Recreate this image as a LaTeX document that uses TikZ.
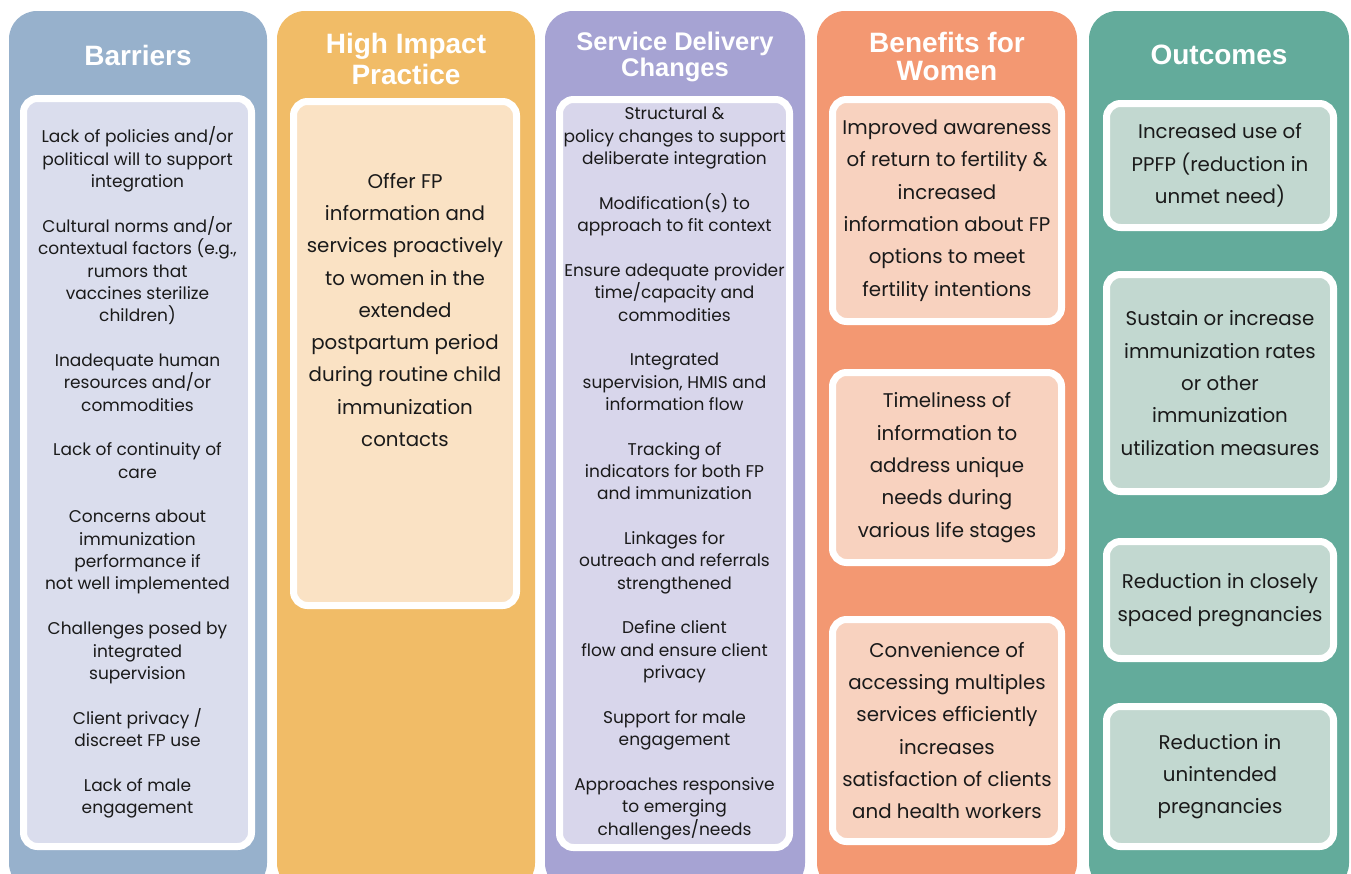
\documentclass[tikz,border=0pt]{standalone}
\usepackage{fontspec}
\usepackage{xcolor}
\usepackage{tikz}
\usetikzlibrary{positioning}
\newfontfamily\headfont{Liberation Sans}
\newfontfamily\bodyfont{Poppins}
\definecolor{barblue}{HTML}{97B1CC}
\definecolor{barfill}{HTML}{DADDED}
\definecolor{hiporange}{HTML}{F1BC67}
\definecolor{hipfill}{HTML}{FAE2C4}
\definecolor{sdcpurple}{HTML}{A6A3D3}
\definecolor{sdcfill}{HTML}{D8D6EB}
\definecolor{benorange}{HTML}{F39872}
\definecolor{benfill}{HTML}{F8D2BF}
\definecolor{outgreen}{HTML}{63AB9B}
\definecolor{outfill}{HTML}{C2D8D0}
\definecolor{bodyink}{HTML}{1A1A1A}

\tikzset{
  column/.style={rounded corners=28pt, minimum width=258pt, minimum height=880pt,
    anchor=north west, inner sep=0pt, outer sep=0pt},
  panel/.style={draw=white, line width=7pt, rounded corners=14pt, inner sep=0pt, outer sep=0pt,
    anchor=north west, align=center, text=bodyink},
  heading/.style={text=white, align=center, font=\headfont\bfseries\fontsize{28}{31}\selectfont},
  smalltext/.style={font=\bodyfont\fontsize{17}{22.35}\selectfont},
  bigtext/.style={font=\bodyfont\fontsize{19.8}{32.3}\selectfont},
}

\begin{document}
\begin{tikzpicture}[x=1pt, y=-1pt]
  \useasboundingbox[fill=white] (0,0) rectangle (1351,873);
  \clip (0,0) rectangle (1351,873);

  % Column backgrounds
  \node[column, fill=barblue] (barcol) at (9,11) {};
  \node[column, fill=hiporange] (hipcol) at (277,11) {};
  \node[column, fill=sdcpurple, minimum width=260pt] (sdccol) at (545,11) {};
  \node[column, fill=benorange, minimum width=260pt] (bencol) at (817,11) {};
  \node[column, fill=outgreen, minimum width=260pt] (outcol) at (1089,11) {};

  % Headings
  \node[heading] (barhead) at (138,55) {Barriers};
  \node[heading] (hiphead) at (406,59) {High Impact\\Practice};
  \node[heading, font=\headfont\bfseries\fontsize{25.5}{26}\selectfont] (sdchead) at (675,57) {Service Delivery\\Changes};
  \node[heading, font=\headfont\bfseries\fontsize{28}{28}\selectfont] (benhead) at (947,56) {Benefits for\\Women};
  \node[heading] (outhead) at (1219,55) {Outcomes};

  % Barriers
  \node[panel, smalltext, fill=barfill, minimum width=228pt, minimum height=748pt]
    (barlist) at (23.5,98.5) {Lack of policies and/or\\political will to support\\integration\\[22.35pt]
    Cultural norms and/or\\contextual factors (e.g.,\\rumors that\\vaccines sterilize\\children)\\[22.35pt]
    Inadequate human\\resources and/or\\commodities\\[22.35pt]
    Lack of continuity of\\care\\[22.35pt]
    Concerns about\\immunization\\performance if\\not well implemented\\[22.35pt]
    Challenges posed by\\integrated\\supervision\\[22.35pt]
    Client privacy /\\discreet FP use\\[22.35pt]
    Lack of male\\engagement};

  % High impact practice
  \node[panel, fill=hipfill, minimum width=223pt, minimum height=504pt] (hipbox) at (293.5,101.5) {};
  \node[bigtext, align=center, text=bodyink, below=68pt of hipbox.north] (hiptext)
    {Offer FP\\information and\\services proactively\\to women in the\\extended\\postpartum period\\during routine child\\immunization\\contacts};

  % Service delivery changes
  \node[panel, smalltext, fill=sdcfill, minimum width=230pt, minimum height=748pt]
    (sdclist) at (559.5,99.5) {Structural \&\\policy changes to support\\deliberate integration\\[22.35pt]
    Modification(s) to\\approach to fit context\\[22.35pt]
    Ensure adequate provider\\time/capacity and\\commodities\\[22.35pt]
    Integrated\\supervision, HMIS and\\information flow\\[22.35pt]
    Tracking of\\indicators for both FP\\and immunization\\[22.35pt]
    Linkages for\\outreach and referrals\\strengthened\\[22.35pt]
    Define client\\flow and ensure client\\privacy\\[22.35pt]
    Support for male\\engagement\\[22.35pt]
    Approaches responsive\\to emerging\\challenges/needs};

  % Benefits for women
  \node[panel, bigtext, fill=benfill, minimum width=229pt, minimum height=222pt] (benaware) at (832.5,99.5)
    {Improved awareness\\of return to fertility \&\\increased\\information about FP\\options to meet\\fertility intentions};
  \node[panel, bigtext, fill=benfill, minimum width=229pt, minimum height=190pt] (bentime) at (832.5,372.5)
    {Timeliness of\\information to\\address unique\\needs during\\various life stages};
  \node[panel, bigtext, fill=benfill, minimum width=229pt, minimum height=222pt] (benconv) at (832.5,619.5)
    {Convenience of\\accessing multiples\\services efficiently\\increases\\satisfaction of clients\\and health workers};

  % Outcomes
  \node[panel, bigtext, fill=outfill, minimum width=227pt, minimum height=124pt] (outppfp) at (1106.5,103.5)
    {Increased use of\\PPFP (reduction in\\unmet need)};
  \node[panel, bigtext, fill=outfill, minimum width=227pt, minimum height=217pt] (outimm) at (1106.5,274.5)
    {Sustain or increase\\immunization rates\\or other\\immunization\\utilization measures};
  \node[panel, bigtext, fill=outfill, minimum width=227pt, minimum height=117pt] (outspace) at (1106.5,541.5)
    {Reduction in closely\\spaced pregnancies};
  \node[panel, bigtext, fill=outfill, minimum width=227pt, minimum height=140pt] (outunint) at (1106.5,706.5)
    {Reduction in\\unintended\\pregnancies};
\end{tikzpicture}
\end{document}
